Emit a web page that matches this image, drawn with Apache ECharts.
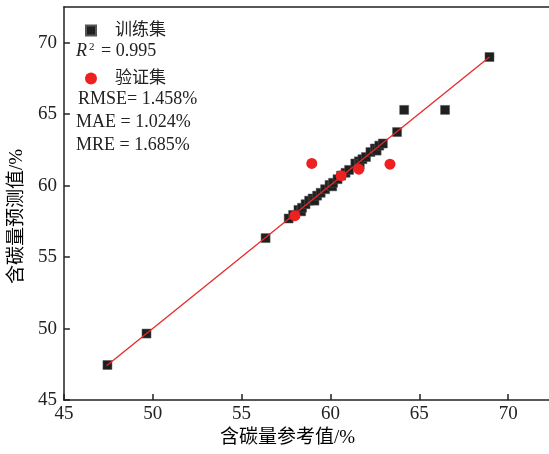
<!DOCTYPE html>
<html><head><meta charset="utf-8">
<script src="https://cdn.jsdelivr.net/npm/echarts@6/dist/echarts.min.js"></script>
<style>html,body{margin:0;padding:0;background:#fff}#c{width:549px;height:454px}</style>
</head><body><div id="c"></div>
<script>
const trainX = [47.45, 49.65, 56.35, 57.65, 57.9, 58.2, 58.35, 58.4, 58.6, 58.8, 59.0, 59.1, 59.25, 59.45, 59.7, 59.95, 60.1, 60.15, 60.4, 60.6, 60.85, 61.05, 61.4, 61.6, 61.65, 61.8, 62.0, 62.25, 62.5, 62.6, 62.75, 62.95, 63.75, 64.15, 66.45, 68.95];
const trainY = [47.45, 49.65, 56.33, 57.7, 57.95, 58.3, 58.2, 58.45, 58.7, 58.95, 59.1, 58.95, 59.3, 59.5, 59.75, 60.05, 59.95, 60.2, 60.45, 60.7, 60.9, 61.1, 61.55, 61.7, 61.5, 61.85, 62.0, 62.35, 62.6, 62.45, 62.8, 62.95, 63.75, 65.3, 65.3, 69.0];
const valX = [58.0, 58.95, 60.6, 61.6, 63.35];
const valY = [57.9, 61.55, 60.7, 61.15, 61.5];
const fitX = [47.4, 68.95];
const fitY = [47.4, 69.0];
const xTicks = [45, 50, 55, 60, 65, 70];
const yTicks = [45, 50, 55, 60, 65, 70];
const seriesNames = ['训练集', '验证集'];
const statLines = ['R² = 0.995', 'RMSE= 1.458%', 'MAE = 1.024%', 'MRE = 1.685%'];

const FONT = '"Liberation Serif", "Noto Sans CJK SC", serif';
const chart = echarts.init(document.getElementById('c'), null, {renderer: 'canvas'});
const zip = (a, b) => a.map((v, i) => [v, b[i]]);
const axisCommon = {
  type: 'value', min: 45, interval: 5,
  axisLine: {show: true, lineStyle: {color: '#222', width: 1.5}},
  axisTick: {show: true, inside: true, length: 6, lineStyle: {color: '#222', width: 1.5}},
  splitLine: {show: false},
  axisLabel: {color: '#222', fontSize: 19, fontFamily: FONT, showMaxLabel: false,
    formatter: v => (xTicks.indexOf(v) >= 0 ? String(v) : '')}
};
chart.setOption({
  animation: false,
  grid: {left: 59, top: 7, right: 0, bottom: 54},
  xAxis: [
    Object.assign({}, axisCommon, {max: 72.3, position: 'bottom',
      axisLabel: Object.assign({}, axisCommon.axisLabel, {margin: 5}),
      name: '含碳量参考值/%', nameLocation: 'middle', nameGap: 29,
      nameTextStyle: {color: '#000', fontSize: 19, fontFamily: FONT, fontWeight: 'normal', padding: [0, 38, 0, 0]}}),
    {type: 'value', min: 45, max: 72.3, position: 'top', axisLine: {show: true, lineStyle: {color: '#222', width: 1.5}},
      axisTick: {show: false}, axisLabel: {show: false}, splitLine: {show: false}}
  ],
  yAxis: [
    Object.assign({}, axisCommon, {max: 72.5,
      axisLabel: Object.assign({}, axisCommon.axisLabel, {margin: 7,
        formatter: v => (yTicks.indexOf(v) >= 0 ? String(v) : '')}),
      name: '含碳量预测值/%', nameLocation: 'middle', nameGap: 34,
      nameTextStyle: {color: '#000', fontSize: 19, fontFamily: FONT, fontWeight: 'normal', padding: [0, 26, 0, 0]}})
  ],
  legend: [
    {data: [{name: seriesNames[0], icon: 'rect'}], left: 80, top: 17, itemWidth: 10, itemHeight: 10, itemGap: 0,
      textStyle: {fontSize: 17, fontFamily: FONT, color: '#222', padding: [0, 0, 0, 14]}},
    {data: [{name: seriesNames[1], icon: 'circle'}], left: 80, top: 65, itemWidth: 12, itemHeight: 12, itemGap: 0,
      textStyle: {fontSize: 17, fontFamily: FONT, color: '#222', padding: [0, 0, 0, 13]}}
  ],
  graphic: [
    {type: 'text', left: 76, top: 42, style: {text: '{i|R}{s|2} = 0.995', rich: {
      i: {fontStyle: 'italic', fontSize: 18, fontFamily: FONT, fill: '#222'},
      s: {fontSize: 11, fontFamily: FONT, fill: '#222', verticalAlign: 'top', padding: [0, 2, 8, 2]}},
      font: '18px ' + FONT, fill: '#222'}},
    {type: 'text', left: 78, top: 90, style: {text: statLines[1], font: '18px ' + FONT, fill: '#222'}},
    {type: 'text', left: 76, top: 113, style: {text: statLines[2], font: '18px ' + FONT, fill: '#222'}},
    {type: 'text', left: 76, top: 136, style: {text: statLines[3], font: '18px ' + FONT, fill: '#222'}}
  ],
  series: [
    {type: 'line', data: zip(fitX, fitY), symbol: 'none', lineStyle: {color: '#e8282b', width: 1.3}, silent: true, z: 3},
    {name: seriesNames[0], type: 'scatter', data: zip(trainX, trainY), symbol: 'rect', symbolSize: 9,
      itemStyle: {color: '#1f1f1f', opacity: 1, borderColor: '#555', borderWidth: 0.5}, z: 2},
    {name: seriesNames[1], type: 'scatter', data: zip(valX, valY), symbol: 'circle', symbolSize: 11,
      itemStyle: {color: '#ee2020', opacity: 1}, z: 4}
  ]
});
</script></body></html>
